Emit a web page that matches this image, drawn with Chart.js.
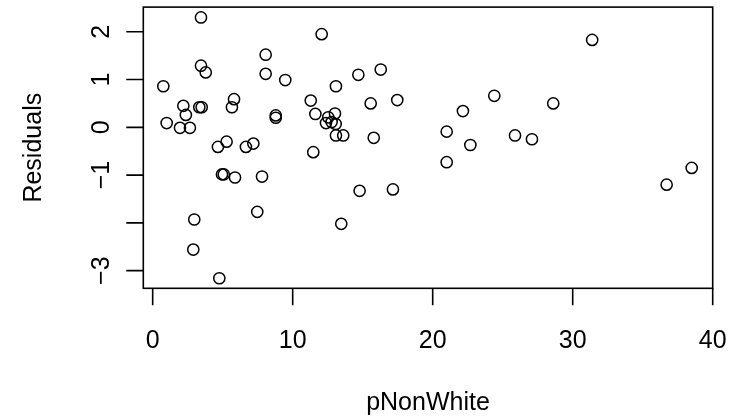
<!DOCTYPE html>
<html>
<head>
<meta charset="utf-8">
<script src="https://cdn.jsdelivr.net/npm/chart.js@4/dist/chart.umd.min.js"></script>
<style>
  html, body { margin: 0; padding: 0; background: #ffffff; }
  #wrap { width: 737px; height: 419px; }
</style>
</head>
<body>
<div id="wrap"><canvas id="plot" width="737" height="419"></canvas></div>
<script>
// Residuals against percentage of non-white population
const pNonWhite = [
  3.45, 12.07, 8.07, 3.45, 3.79, 8.07, 9.47, 0.76, 13.09, 5.81,
  5.66, 11.29, 2.19, 3.33, 3.50, 2.37, 8.79, 8.79, 11.62, 1.00,
  1.95, 2.66, 14.69, 16.29, 15.57, 17.47, 13.02, 12.54, 12.38, 12.78,
  13.07, 13.09, 13.61, 15.79, 11.47, 14.78, 17.16, 13.47, 24.40, 22.16,
  21.00, 25.88, 22.69, 21.00, 27.09, 28.61, 31.39, 38.50, 36.71, 5.28,
  4.66, 6.66, 7.19, 4.95, 5.08, 5.88, 7.81, 7.47, 2.97, 2.90,
  4.76
];
const residuals = [
  2.30, 1.95, 1.52, 1.29, 1.15, 1.12, 0.99, 0.86, 0.86, 0.59,
  0.42, 0.56, 0.45, 0.42, 0.42, 0.26, 0.25, 0.20, 0.28, 0.09,
  -0.01, -0.01, 1.10, 1.21, 0.50, 0.57, 0.29, 0.21, 0.09, 0.11,
  0.07, -0.17, -0.17, -0.22, -0.52, -1.33, -1.30, -2.02, 0.66, 0.34,
  -0.09, -0.17, -0.37, -0.73, -0.25, 0.50, 1.83, -0.85, -1.20, -0.30,
  -0.41, -0.41, -0.34, -0.985, -0.985, -1.05, -1.03, -1.77, -1.93, -2.56,
  -3.16
];

const xTicks = [0, 10, 20, 30, 40];
const xTickLabels = ['0', '10', '20', '30', '40'];
const yTicks = [-3, -2, -1, 0, 1, 2];
const yTickLabels = ['\u22123', '', '\u22121', '0', '1', '2'];

const xTitle = 'pNonWhite';
const yTitle = 'Residuals';

const FONT = '25px "Liberation Sans", Arial, Helvetica, sans-serif';
const INK = '#000000';

// base-graphics style frame: box, outward ticks, rotated y labels
const frame = {
  id: 'frame',
  afterDraw(chart) {
    const ctx = chart.ctx;
    const a = chart.chartArea;
    const xs = chart.scales.x;
    const ys = chart.scales.y;
    const tick = 17;
    ctx.save();
    ctx.strokeStyle = INK;
    ctx.fillStyle = INK;
    ctx.lineWidth = 1.6;
    ctx.strokeRect(a.left, a.top, a.right - a.left, a.bottom - a.top);

    ctx.font = FONT;
    // x axis
    ctx.beginPath();
    xTicks.forEach(v => {
      const px = xs.getPixelForValue(v);
      ctx.moveTo(px, a.bottom);
      ctx.lineTo(px, a.bottom + tick);
    });
    ctx.stroke();
    ctx.textAlign = 'center';
    ctx.textBaseline = 'alphabetic';
    xTicks.forEach((v, i) => {
      ctx.fillText(xTickLabels[i], xs.getPixelForValue(v), 347.5);
    });
    ctx.fillText(xTitle, (a.left + a.right) / 2, 410);

    // y axis
    ctx.beginPath();
    yTicks.forEach(v => {
      const py = ys.getPixelForValue(v);
      ctx.moveTo(a.left, py);
      ctx.lineTo(a.left - tick, py);
    });
    ctx.stroke();
    yTicks.forEach((v, i) => {
      if (!yTickLabels[i]) return;
      ctx.save();
      ctx.translate(109, ys.getPixelForValue(v));
      ctx.rotate(-Math.PI / 2);
      ctx.fillText(yTickLabels[i], 0, 0);
      ctx.restore();
    });
    ctx.save();
    ctx.translate(41, (a.top + a.bottom) / 2);
    ctx.rotate(-Math.PI / 2);
    ctx.fillText(yTitle, 0, 0);
    ctx.restore();
    ctx.restore();
  }
};

new Chart(document.getElementById('plot'), {
  type: 'scatter',
  data: {
    datasets: [{
      data: pNonWhite.map((x, i) => ({ x: x, y: residuals[i] })),
      pointStyle: 'circle',
      pointRadius: 5.6,
      pointHoverRadius: 5.6,
      pointBorderWidth: 1.5,
      borderColor: INK,
      backgroundColor: 'rgba(0,0,0,0)',
      clip: false
    }]
  },
  options: {
    responsive: false,
    animation: false,
    events: [],
    layout: { padding: { left: 143.3, right: 24.3, top: 6, bottom: 130.7 } },
    plugins: { legend: { display: false }, tooltip: { enabled: false } },
    scales: {
      x: { type: 'linear', min: -0.67, max: 40.0, display: false },
      y: { type: 'linear', min: -3.37, max: 2.517, display: false }
    }
  },
  plugins: [frame]
});
</script>
</body>
</html>
